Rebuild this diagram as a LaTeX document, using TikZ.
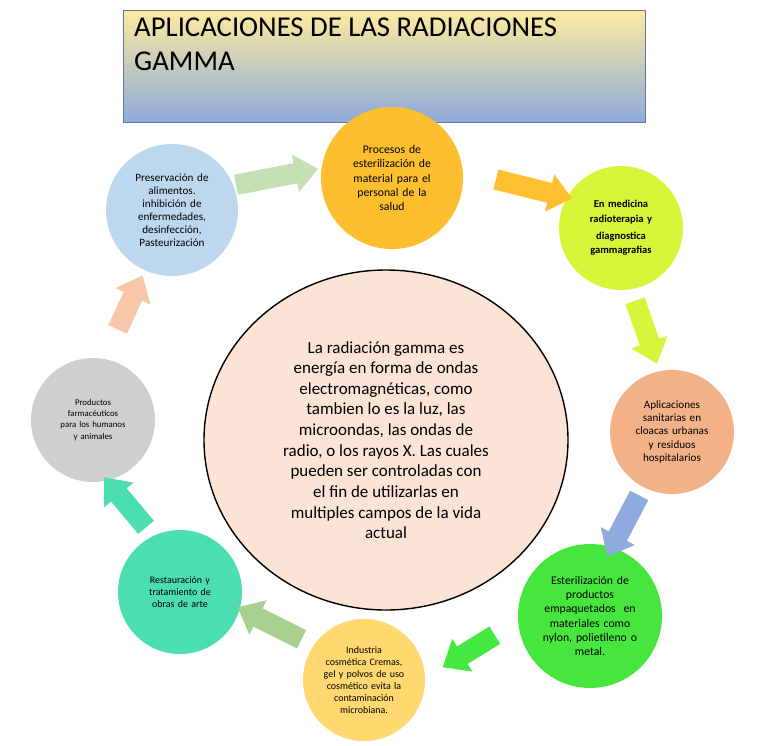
\documentclass[tikz,border=0pt]{standalone}
\usepackage{fontspec}
\setmainfont{Carlito}
\usetikzlibrary{shapes.arrows,calc}
\definecolor{cA}{HTML}{FDBF2D}\definecolor{cB}{HTML}{D8F53A}\definecolor{cC}{HTML}{F2B187}
\definecolor{cD}{HTML}{46E63F}\definecolor{cE}{HTML}{FFD86F}\definecolor{cF}{HTML}{4CDEB0}
\definecolor{cG}{HTML}{D0CECE}\definecolor{cH}{HTML}{BDD7EE}\definecolor{cM}{HTML}{FBE4D5}
\definecolor{aA}{HTML}{C5E0B4}\definecolor{aB}{HTML}{FFC030}\definecolor{aC}{HTML}{D9F53B}
\definecolor{aD}{HTML}{8FAADC}\definecolor{aE}{HTML}{44E840}\definecolor{aF}{HTML}{A9D08E}
\definecolor{aG}{HTML}{4CDEB0}\definecolor{aH}{HTML}{F8C6A8}
\definecolor{tTop}{HTML}{FCEBA0}\definecolor{tBot}{HTML}{8FAADC}
\tikzset{bub/.style={circle,inner sep=0pt,align=center,text width=#1},
  blk/.style={single arrow,draw=none,inner sep=0pt,minimum width=1.15cm,single arrow head extend=0.27cm,single arrow tip angle=80}}
\newcommand{\blockarrow}[4]{%
 \path let \p1=($(#3)-(#2)$),\n1={atan2(\y1,\x1)},\n2={veclen(\x1,\y1)} in
  node[blk,fill=#4,rotate=\n1,minimum height=\n2] (#1) at ($(#2)!0.5!(#3)$) {\rule{0pt}{0.6cm}};}
\begin{document}
\begin{tikzpicture}[x=0.03cm,y=-0.03cm]
\useasboundingbox (0,0) rectangle (773,745);
\node[draw=tBot!70!black,line width=0.4pt,top color=tTop,bottom color=tBot,minimum width=522*0.03cm,minimum height=112*0.03cm,anchor=north west,inner sep=0pt] (title) at (123,10) {};
\node[anchor=north west,align=left,font=\fontsize{24.5}{29}\selectfont,inner sep=0pt] (tt) at (134,18) {APLICACIONES DE LAS RADIACIONES\\GAMMA};
\fill[cM] (386,440) ellipse [x radius=182,y radius=170];
\draw[line width=1.2pt] (386,440) ellipse [x radius=182,y radius=170];
\node[align=center,font=\fontsize{14.5}{17.6}\selectfont] (main) at (386,440) {La radiación gamma es\\ energía en forma de ondas\\ electromagnéticas, como\\ tambien lo es la luz, las\\ microondas, las ondas de\\ radio, o los rayos X. Las cuales\\ pueden ser controladas con\\ el fin de utilizarlas en\\ multiples campos de la vida\\ actual};
\node[bub=2.9cm,fill=cA,minimum size=142*0.03cm,font=\fontsize{10}{12}\selectfont] (n1) at (392,178) {Procesos de\\ esterilización de\\ material para el\\ personal de la\\ salud\\[14pt]};
\node[bub=2.4cm,fill=cB,minimum size=124*0.03cm,font=\bfseries\fontsize{9}{12}\selectfont] (n2) at (621,228) {En medicina\\ radioterapia y\\[3pt] diagnostica\\ gammagrafias};
\node[bub=2.4cm,fill=cC,minimum size=124*0.03cm,font=\fontsize{9.5}{11.5}\selectfont] (n3) at (672,432) {Aplicaciones\\ sanitarias en\\ cloacas urbanas\\ y residuos\\ hospitalarios};
\node[bub=3.3cm,fill=cD,minimum size=144*0.03cm,font=\fontsize{10}{12}\selectfont] (n4) at (590,616) {Esterilización de\\ productos\\ empaquetados~ en\\ materiales como\\ nylon, polietileno o\\ metal.\\[8pt]};
\node[bub=2.5cm,fill=cE,minimum size=122*0.03cm,font=\fontsize{8.5}{10.2}\selectfont] (n5) at (364,680) {Industria\\ cosmética Cremas,\\ gel y polvos de uso\\ cosmético evita la\\ contaminación\\ microbiana.};
\node[bub=2.5cm,fill=cF,minimum size=124*0.03cm,font=\fontsize{8.5}{10.2}\selectfont] (n6) at (180,592) {Restauración y\\ tratamiento de\\ obras de arte\\[12pt]};
\node[bub=2.5cm,fill=cG,minimum size=124*0.03cm,font=\fontsize{7.5}{9.5}\selectfont] (n7) at (93,420) {Productos\\ farmacéuticos\\ para los humanos\\ y animales\\[10pt]};
\node[bub=2.8cm,fill=cH,minimum size=132*0.03cm,font=\fontsize{9.5}{11.2}\selectfont] (n8) at (172,210) {Preservación de\\ alimentos.\\ inhibición de\\ enfermedades,\\ desinfección,\\ Pasteurización};
\coordinate (a1s) at (230,186);\coordinate (a1e) at (312,170);
\coordinate (a2s) at (490,178);\coordinate (a2e) at (566,197);
\coordinate (a3s) at (633,295);\coordinate (a3e) at (655,358);
\coordinate (a4s) at (642,490);\coordinate (a4e) at (610,551);
\coordinate (a5s) at (500,632);\coordinate (a5e) at (448,664);
\coordinate (a6s) at (307,642);\coordinate (a6e) at (243,610);
\coordinate (a7s) at (150,532);\coordinate (a7e) at (108,482);
\coordinate (a8s) at (115,335);\coordinate (a8e) at (140,281);
\blockarrow{b1}{a1s}{a1e}{aA}
\blockarrow{b2}{a2s}{a2e}{aB}
\blockarrow{b3}{a3s}{a3e}{aC}
\blockarrow{b4}{a4s}{a4e}{aD}
\blockarrow{b5}{a5s}{a5e}{aE}
\blockarrow{b6}{a6s}{a6e}{aF}
\blockarrow{b7}{a7s}{a7e}{aG}
\blockarrow{b8}{a8s}{a8e}{aH}
\end{tikzpicture}
\end{document}
